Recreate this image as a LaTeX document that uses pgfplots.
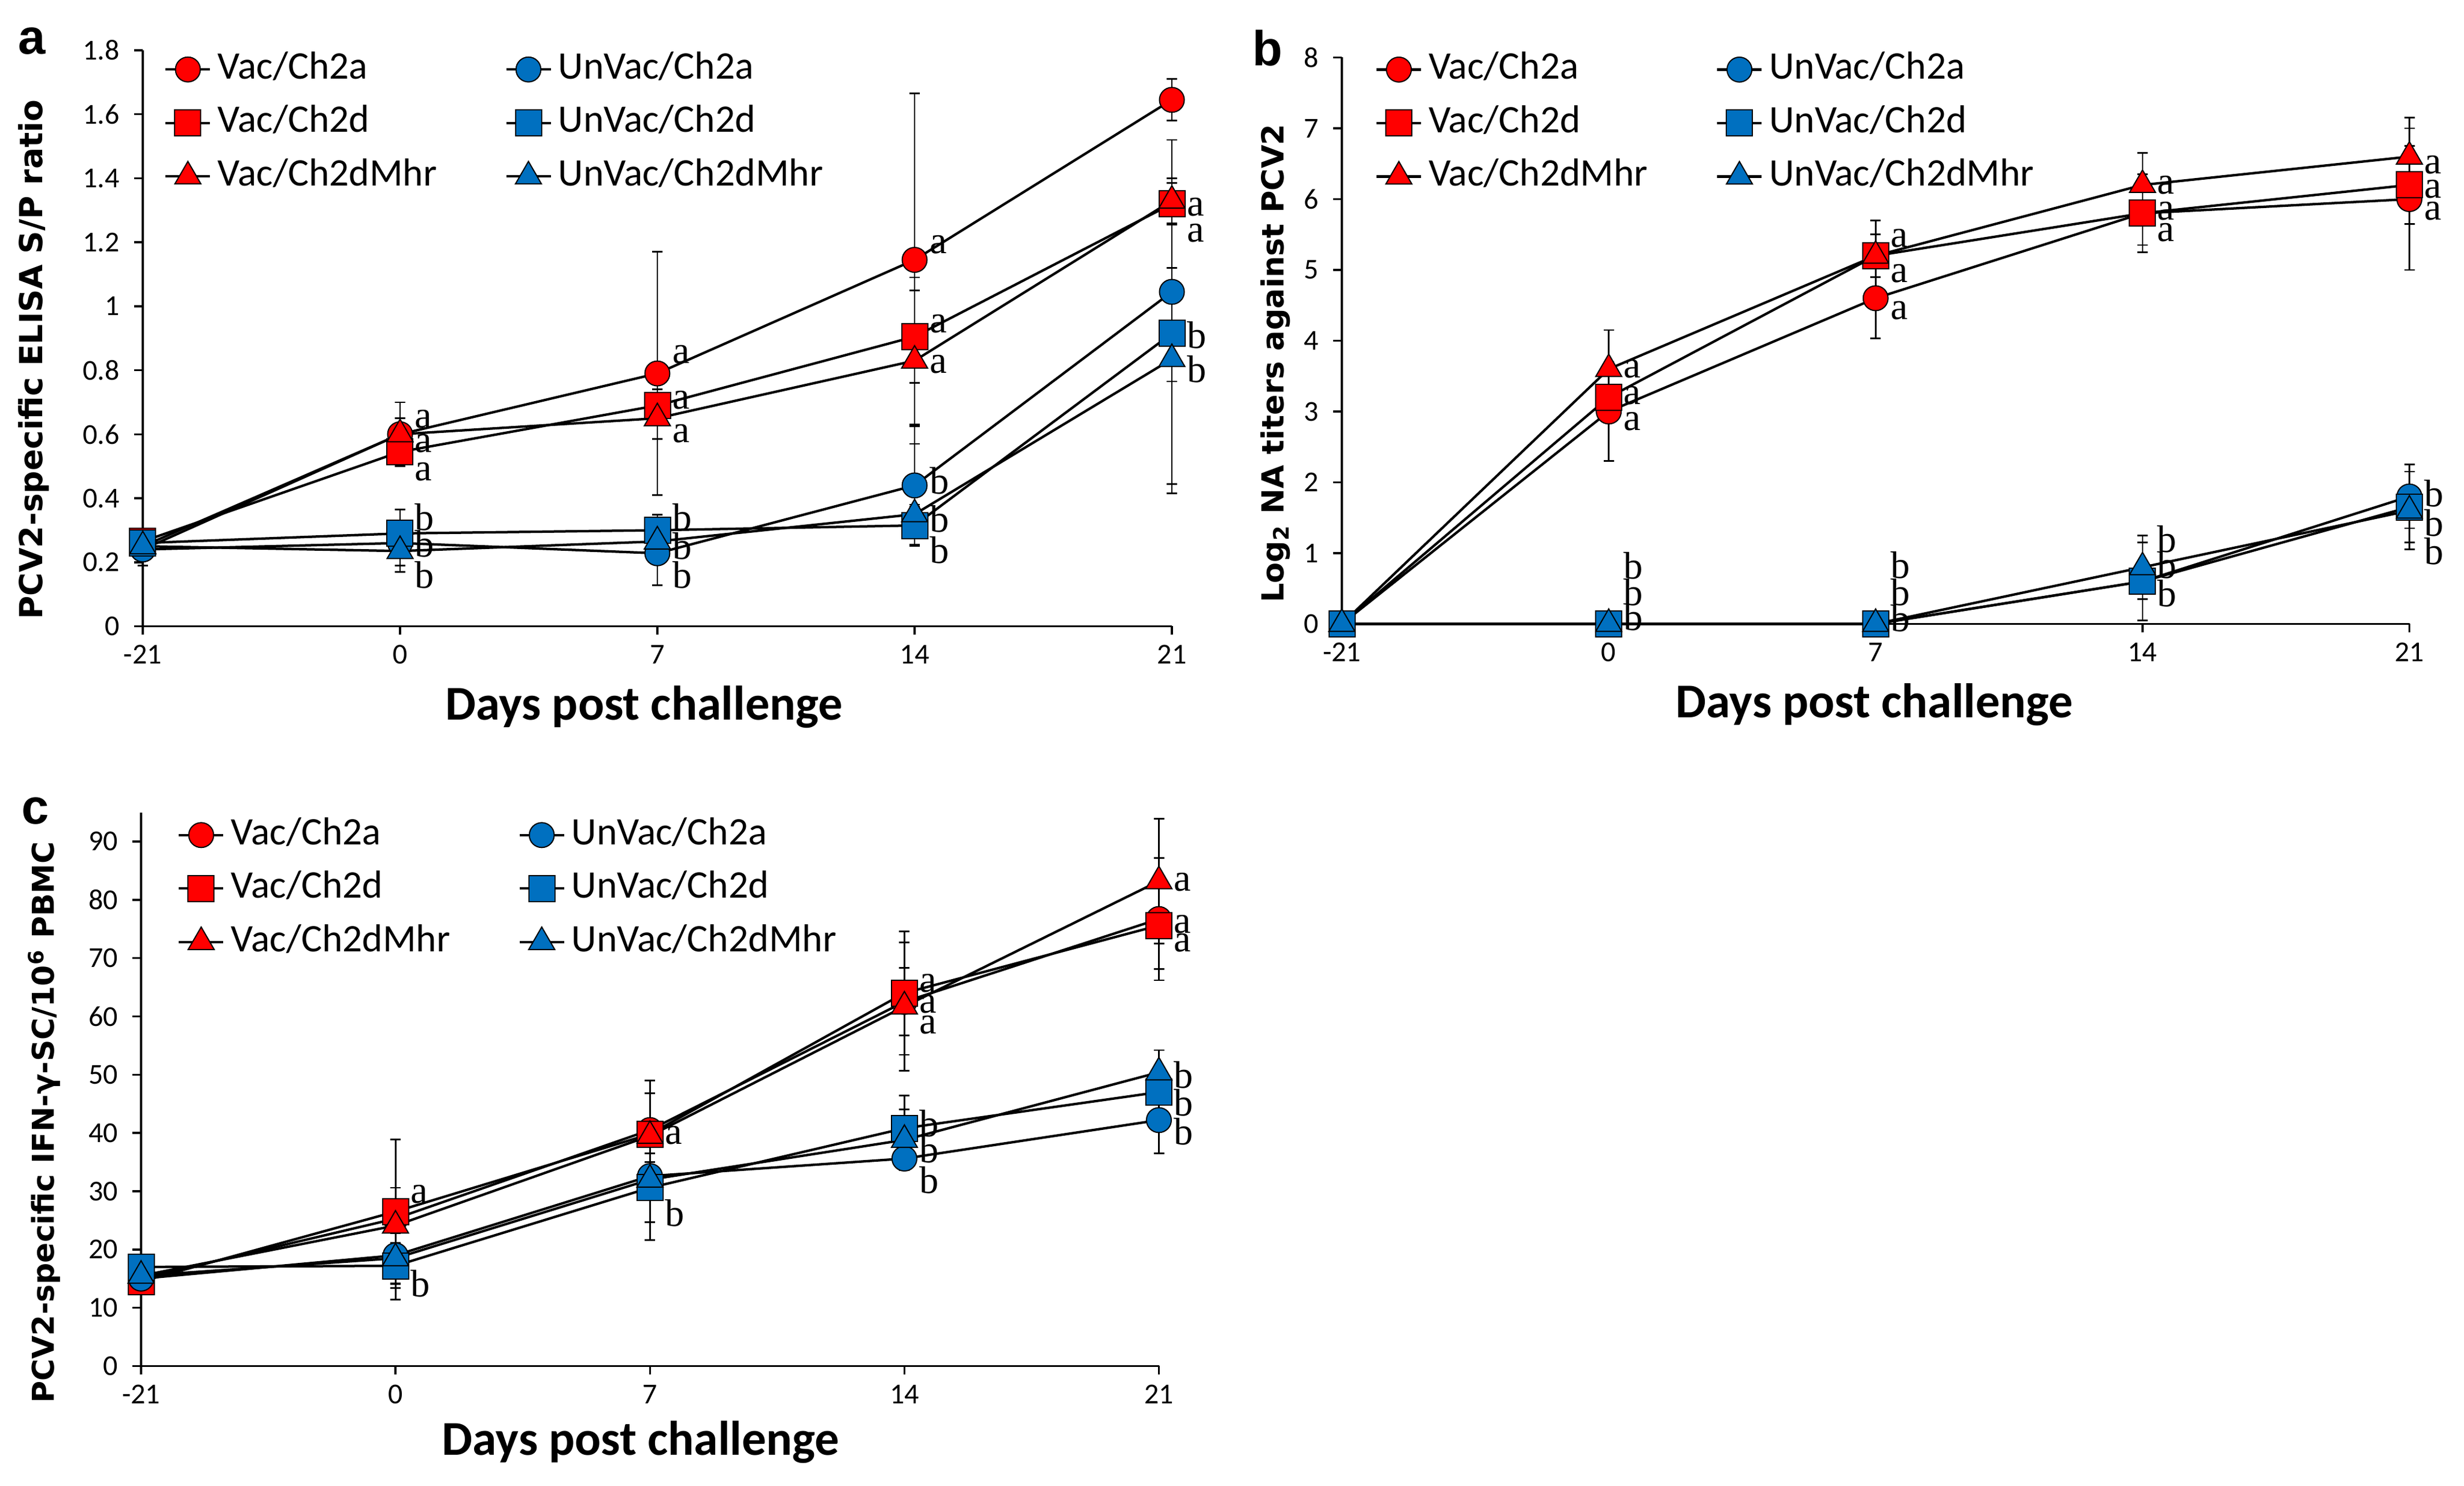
\documentclass[border=0pt]{standalone}
\usepackage{fontspec}
\setmainfont{Carlito}
\newfontfamily\dejavu{DejaVu Sans}
\newfontfamily\lserif{Liberation Serif}
\newfontfamily\lsans{Liberation Sans}
\usepackage{pgfplots}
\pgfplotsset{compat=1.18}
\definecolor{xred}{HTML}{FF0000}
\definecolor{xblue}{HTML}{0070C0}
\tikzset{lt/.style={anchor=west, inner sep=0pt, font=\lserif\fontsize{13.3}{15}\selectfont, xshift=5pt}}
\pgfplotsset{
 base/.style={scale only axis, axis lines*=left, tick align=outside, major tick length=3pt,
   xmin=0, xmax=4, xtick={0,1,2,3,4}, xticklabels={-21,0,7,14,21}, clip=false,
   axis line style={line width=0.7pt, black}, every tick/.style={line width=0.7pt, black},
   tick label style={font=\fontsize{10}{12}\selectfont},
   yticklabel style={xshift=-1.5pt},
   /pgf/number format/assume math mode=true,
   xlabel={Days post challenge},
   xlabel style={font=\fontsize{16.8}{19}\selectfont\bfseries, anchor=center},
   ylabel style={anchor=center},
   legend columns=2, legend cell align=left,
   legend style={draw=none, fill=none, inner sep=0pt, outer sep=0pt,
     font=\fontsize{13.5}{16}\selectfont, row sep=7pt, column sep=2.2pt,
     /tikz/every even column/.append style={column sep=23.5pt},
     nodes={inner sep=0pt, text height=9pt, text depth=2.5pt}, anchor=north west},
   legend image code/.code={\draw[mark repeat=2, mark phase=2, #1] plot coordinates {(0pt,0pt) (7.7pt,0pt) (15.4pt,0pt)};}
 },
 rc/.style={black, line width=0.85pt, mark=*, mark options={fill=xred, draw=black, line width=0.4pt, mark size=4.3pt}},
 rs/.style={black, line width=0.85pt, mark=square*, mark options={fill=xred, draw=black, line width=0.4pt, mark size=4.5pt}},
 rt/.style={black, line width=0.85pt, mark=triangle*, mark options={fill=xred, draw=black, line width=0.4pt, mark size=5.2pt}},
 bc/.style={black, line width=0.85pt, mark=*, mark options={fill=xblue, draw=black, line width=0.4pt, mark size=4.3pt}},
 bs/.style={black, line width=0.85pt, mark=square*, mark options={fill=xblue, draw=black, line width=0.4pt, mark size=4.5pt}},
 bt/.style={black, line width=0.85pt, mark=triangle*, mark options={fill=xblue, draw=black, line width=0.4pt, mark size=5.2pt}},
 eb/.style={/pgfplots/error bars/y dir=both, /pgfplots/error bars/y explicit,
   /pgfplots/error bars/error bar style={line width=0.55pt, black},
   /pgfplots/error bars/error mark options={rotate=90, mark size=1.8pt, line width=0.55pt, black}}
}
\begin{document}
\begin{tikzpicture}[x=1pt,y=1pt]
\path[use as bounding box] (0,0) rectangle (852.4,514.2);
% ---------------- panel a
\begin{axis}[base, at={(49.4pt,297.5pt)}, anchor=south west, width=356pt, height=199.3pt,
  ymin=0, ymax=1.8, ytick={0,0.2,...,1.8},
  ylabel={PCV2-specific ELISA S/P ratio},
  xlabel style={at={(axis description cs:0.487,-0.14)}},
  ylabel style={font=\dejavu\bfseries\fontsize{11}{13}\selectfont, at={(axis description cs:-0.106,0.463)}},
  legend style={at={(axis description cs:0.021,0.9955)}}]
\addlegendimage{rc}\addlegendentry{Vac/Ch2a}
\addlegendimage{bc}\addlegendentry{UnVac/Ch2a}
\addlegendimage{rs}\addlegendentry{Vac/Ch2d}
\addlegendimage{bs}\addlegendentry{UnVac/Ch2d}
\addlegendimage{rt}\addlegendentry{Vac/Ch2dMhr}
\addlegendimage{bt}\addlegendentry{UnVac/Ch2dMhr}
\addplot[rc, eb, forget plot] table[row sep=\\, x=x, y=y, y error=e] {x y e\\ 0 0.24 0.05\\ 1 0.60 0.10\\ 2 0.79 0.38\\ 3 1.145 0.52\\ 4 1.645 0.065\\};
\addplot[rs, eb, forget plot] table[row sep=\\, x=x, y=y, y error=e] {x y e\\ 0 0.265 0.04\\ 1 0.545 0.04\\ 2 0.69 0.05\\ 3 0.905 0.145\\ 4 1.32 0.20\\};
\addplot[rt, eb, forget plot] table[row sep=\\, x=x, y=y, y error=e] {x y e\\ 0 0.25 0.04\\ 1 0.60 0.05\\ 2 0.65 0.065\\ 3 0.83 0.26\\ 4 1.33 0.07\\};
\addplot[bc, eb, forget plot] table[row sep=\\, x=x, y=y, y error=e] {x y e\\ 0 0.24 0.05\\ 1 0.26 0.07\\ 2 0.228 0.10\\ 3 0.44 0.19\\ 4 1.045 0.28\\};
\addplot[bs, eb, forget plot] table[row sep=\\, x=x, y=y, y error=e] {x y e\\ 0 0.26 0.04\\ 1 0.29 0.075\\ 2 0.30 0.048\\ 3 0.315 0.06\\ 4 0.915 0.47\\};
\addplot[bt, eb, forget plot] table[row sep=\\, x=x, y=y, y error=e] {x y e\\ 0 0.25 0.04\\ 1 0.235 0.065\\ 2 0.265 0.04\\ 3 0.35 0.03\\ 4 0.835 0.42\\};
\node[lt] at (axis cs:1,0.647) {a};
\node[lt] at (axis cs:1,0.572) {a};
\node[lt] at (axis cs:1,0.482) {a};
\node[lt] at (axis cs:1,0.34) {b};
\node[lt] at (axis cs:1,0.258) {b};
\node[lt] at (axis cs:1,0.16) {b};
\node[lt] at (axis cs:2,0.849) {a};
\node[lt] at (axis cs:2,0.707) {a};
\node[lt] at (axis cs:2,0.602) {a};
\node[lt] at (axis cs:2,0.34) {b};
\node[lt] at (axis cs:2,0.25) {b};
\node[lt] at (axis cs:2,0.16) {b};
\node[lt] at (axis cs:3,1.193) {a};
\node[lt] at (axis cs:3,0.946) {a};
\node[lt] at (axis cs:3,0.819) {a};
\node[lt] at (axis cs:3,0.455) {b};
\node[lt] at (axis cs:3,0.335) {b};
\node[lt] at (axis cs:3,0.238) {b};
\node[lt] at (axis cs:4,1.31) {a};
\node[lt] at (axis cs:4,1.228) {a};
\node[lt] at (axis cs:4,0.909) {b};
\node[lt] at (axis cs:4,0.804) {b};
\end{axis}
% ---------------- panel b
\begin{axis}[base, at={(464.2pt,298.3pt)}, anchor=south west, width=369.3pt, height=196pt,
  ymin=0, ymax=8, ytick={0,1,...,8},
  ylabel={Log\textsubscript{2} NA titers against PCV2},
  xlabel style={at={(axis description cs:0.499,-0.143)}},
  ylabel style={font=\dejavu\bfseries\fontsize{10.5}{13}\selectfont, at={(axis description cs:-0.062,0.46)}},
  legend style={at={(axis description cs:0.0314,1.008)}}]
\addlegendimage{rc}\addlegendentry{Vac/Ch2a}
\addlegendimage{bc}\addlegendentry{UnVac/Ch2a}
\addlegendimage{rs}\addlegendentry{Vac/Ch2d}
\addlegendimage{bs}\addlegendentry{UnVac/Ch2d}
\addlegendimage{rt}\addlegendentry{Vac/Ch2dMhr}
\addlegendimage{bt}\addlegendentry{UnVac/Ch2dMhr}
\addplot[rc, eb, forget plot] table[row sep=\\, x=x, y=y, y error=e] {x y e\\ 0 0 0\\ 1 3.0 0.7\\ 2 4.6 0.57\\ 3 5.8 0.55\\ 4 6.0 1.0\\};
\addplot[rs, eb, forget plot] table[row sep=\\, x=x, y=y, y error=e] {x y e\\ 0 0 0\\ 1 3.2 0.18\\ 2 5.2 0.3\\ 3 5.8 0.45\\ 4 6.2 0.55\\};
\addplot[rt, eb, forget plot] table[row sep=\\, x=x, y=y, y error=e] {x y e\\ 0 0 0\\ 1 3.6 0.55\\ 2 5.2 0.5\\ 3 6.2 0.45\\ 4 6.6 0.55\\};
\addplot[bc, eb, forget plot] table[row sep=\\, x=x, y=y, y error=e] {x y e\\ 0 0 0\\ 1 0 0\\ 2 0 0\\ 3 0.6 0.25\\ 4 1.8 0.45\\};
\addplot[bs, eb, forget plot] table[row sep=\\, x=x, y=y, y error=e] {x y e\\ 0 0 0\\ 1 0 0\\ 2 0 0\\ 3 0.6 0.55\\ 4 1.65 0.5\\};
\addplot[bt, eb, forget plot] table[row sep=\\, x=x, y=y, y error=e] {x y e\\ 0 0 0\\ 1 0 0\\ 2 0 0\\ 3 0.8 0.45\\ 4 1.6 0.55\\};
\node[lt] at (axis cs:1,3.6) {a};
\node[lt] at (axis cs:1,3.23) {a};
\node[lt] at (axis cs:1,2.86) {a};
\node[lt] at (axis cs:1,0.826) {b};
\node[lt] at (axis cs:1,0.45) {b};
\node[lt] at (axis cs:1,0.095) {b};
\node[lt] at (axis cs:2,5.45) {a};
\node[lt] at (axis cs:2,4.95) {a};
\node[lt] at (axis cs:2,4.43) {a};
\node[lt] at (axis cs:2,0.83) {b};
\node[lt] at (axis cs:2,0.45) {b};
\node[lt] at (axis cs:2,0.08) {b};
\node[lt] at (axis cs:3,6.2) {a};
\node[lt] at (axis cs:3,5.83) {a};
\node[lt] at (axis cs:3,5.53) {a};
\node[lt] at (axis cs:3,1.2) {b};
\node[lt] at (axis cs:3,0.83) {b};
\node[lt] at (axis cs:3,0.43) {b};
\node[lt] at (axis cs:4,6.48) {a};
\node[lt] at (axis cs:4,6.14) {a};
\node[lt] at (axis cs:4,5.83) {a};
\node[lt] at (axis cs:4,1.84) {b};
\node[lt] at (axis cs:4,1.43) {b};
\node[lt] at (axis cs:4,1.03) {b};
\end{axis}
% ---------------- panel c
\begin{axis}[base, at={(48.8pt,41.5pt)}, anchor=south west, width=352.1pt, height=191.6pt,
  ymin=0, ymax=95, ytick={0,10,...,90},
  ylabel={PCV2-specific IFN-γ-SC/10\textsuperscript{6} PBMC},
  xlabel style={at={(axis description cs:0.491,-0.137)}},
  ylabel style={font=\dejavu\bfseries\fontsize{10.4}{12}\selectfont, at={(axis description cs:-0.095,0.44)}},
  legend style={at={(axis description cs:0.036,0.989)}}]
\addlegendimage{rc}\addlegendentry{Vac/Ch2a}
\addlegendimage{bc}\addlegendentry{UnVac/Ch2a}
\addlegendimage{rs}\addlegendentry{Vac/Ch2d}
\addlegendimage{bs}\addlegendentry{UnVac/Ch2d}
\addlegendimage{rt}\addlegendentry{Vac/Ch2dMhr}
\addlegendimage{bt}\addlegendentry{UnVac/Ch2dMhr}
\addplot[rc, eb, forget plot] table[row sep=\\, x=x, y=y, y error=e] {x y e\\ 0 15.0 2.5\\ 1 25.3 5.3\\ 2 40.5 8.5\\ 3 62.5 5.8\\ 4 76.7 10.5\\};
\addplot[rs, eb, forget plot] table[row sep=\\, x=x, y=y, y error=e] {x y e\\ 0 14.5 2\\ 1 26.5 12.4\\ 2 39.8 7\\ 3 64.0 10.6\\ 4 75.6 7.5\\};
\addplot[rt, eb, forget plot] table[row sep=\\, x=x, y=y, y error=e] {x y e\\ 0 15.5 2\\ 1 24.1 3\\ 2 39.5 3\\ 3 61.7 11\\ 4 83.2 10.7\\};
\addplot[bc, eb, forget plot] table[row sep=\\, x=x, y=y, y error=e] {x y e\\ 0 15.0 2.5\\ 1 19.0 7.6\\ 2 32.6 7.9\\ 3 35.6 2\\ 4 42.2 5.7\\};
\addplot[bs, eb, forget plot] table[row sep=\\, x=x, y=y, y error=e] {x y e\\ 0 17.0 2\\ 1 17.2 3.8\\ 2 30.6 9\\ 3 40.8 5.6\\ 4 47.0 2\\};
\addplot[bt, eb, forget plot] table[row sep=\\, x=x, y=y, y error=e] {x y e\\ 0 15.5 2\\ 1 18.5 4.3\\ 2 32.0 3\\ 3 38.8 5.2\\ 4 50.4 3.8\\};
\node[lt] at (axis cs:1,29.5) {a};
\node[lt] at (axis cs:1,14.2) {b};
\node[lt] at (axis cs:2,39.6) {a};
\node[lt] at (axis cs:2,26.3) {b};
\node[lt] at (axis cs:3,65.7) {a};
\node[lt] at (axis cs:3,62.1) {a};
\node[lt] at (axis cs:3,58.5) {a};
\node[lt] at (axis cs:3,41.6) {b};
\node[lt] at (axis cs:3,37.2) {b};
\node[lt] at (axis cs:3,31.9) {b};
\node[lt] at (axis cs:4,83.0) {a};
\node[lt] at (axis cs:4,75.8) {a};
\node[lt] at (axis cs:4,72.6) {a};
\node[lt] at (axis cs:4,50.0) {b};
\node[lt] at (axis cs:4,45.2) {b};
\node[lt] at (axis cs:4,40.2) {b};
\end{axis}
\node[font=\lsans\bfseries\fontsize{17}{20}\selectfont] at (11,500) {a};
\node[font=\lsans\bfseries\fontsize{17}{20}\selectfont] at (438.5,497.5) {b};
\node[font=\lsans\bfseries\fontsize{17}{20}\selectfont] at (12.2,233.5) {c};
\end{tikzpicture}
\end{document}
